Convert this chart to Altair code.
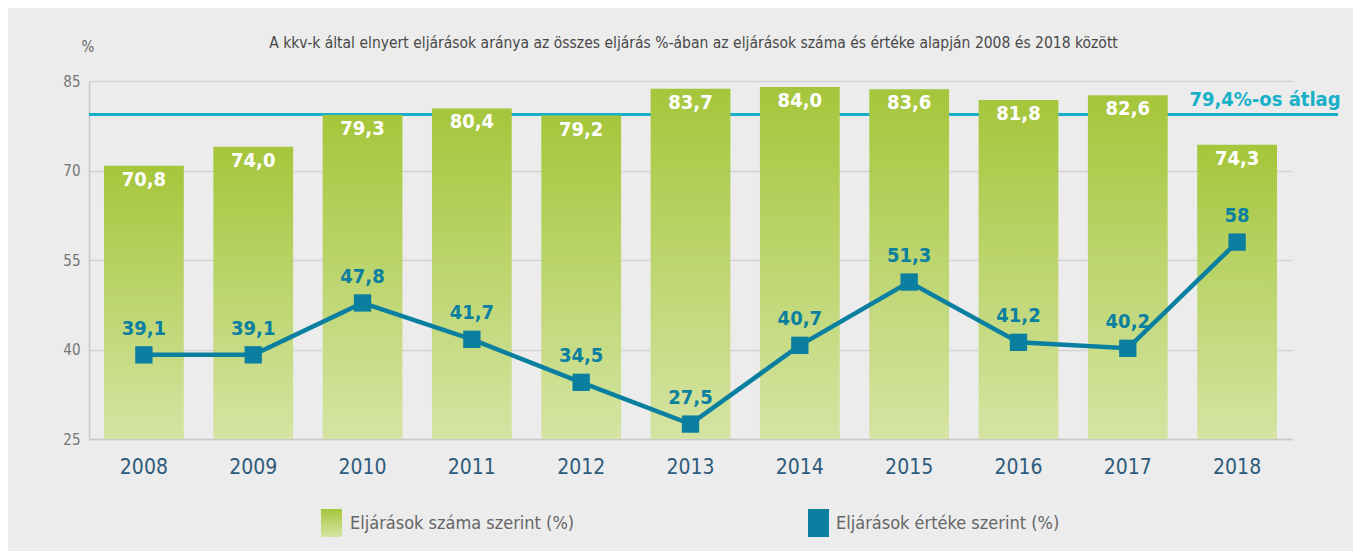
import altair as alt
import pandas as pd

years = ["2008", "2009", "2010", "2011", "2012", "2013", "2014", "2015", "2016", "2017", "2018"]
count_share = [70.8, 74.0, 79.3, 80.4, 79.2, 83.7, 84.0, 83.6, 81.8, 82.6, 74.3]
count_labels = ["70,8", "74,0", "79,3", "80,4", "79,2", "83,7", "84,0", "83,6", "81,8", "82,6", "74,3"]
value_share = [39.1, 39.1, 47.8, 41.7, 34.5, 27.5, 40.7, 51.3, 41.2, 40.2, 58.0]
value_labels = ["39,1", "39,1", "47,8", "41,7", "34,5", "27,5", "40,7", "51,3", "41,2", "40,2", "58"]
average = 79.4
average_label = "79,4%-os átlag"
y_ticks = [25, 40, 55, 70, 85]
title_text = "A kkv-k által elnyert eljárások aránya az összes eljárás %-ában az eljárások száma és értéke alapján 2008 és 2018 között"
legend_labels = ["Eljárások száma szerint (%)", "Eljárások értéke szerint (%)"]

FONT = "Liberation Sans Narrow, DejaVu Sans Condensed, sans-serif"
GREEN_TOP = "#a5c63b"
GREEN_BOT = "#d5e4a3"
TEAL = "#0a7fa0"
CYAN = "#18b0c8"

df = pd.DataFrame({
    "year": years,
    "count": count_share,
    "count_label": count_labels,
    "value": value_share,
    "value_label": value_labels,
})

W, H = 1203, 358

xenc = alt.X("year:O", title=None,
             scale=alt.Scale(paddingInner=0.27, paddingOuter=0.137),
             axis=alt.Axis(labelAngle=0, labelColor="#2d5b7c", labelFontSize=21, labelFont=FONT,
                           labelPadding=17, ticks=False, domainColor="#c8c8c8", domainWidth=1.5))
yscale = alt.Scale(domain=[25, 85], nice=False, zero=False)

base = alt.Chart(df)

grad = alt.Gradient(gradient="linear",
                    stops=[alt.GradientStop(color=GREEN_TOP, offset=0),
                           alt.GradientStop(color=GREEN_BOT, offset=1)],
                    x1=0, x2=0, y1=0, y2=1)

avg_df = pd.DataFrame({"avg": [average], "label": [average_label]})
avg_rule = alt.Chart(avg_df).mark_rule(color=CYAN, strokeWidth=3).encode(
    y=alt.Y("avg:Q", scale=yscale,
            axis=alt.Axis(values=y_ticks, title=None, labelColor="#777777", labelFontSize=15, labelFont=FONT,
                          gridColor="#d2d2d2", gridWidth=1.5, domainColor="#c8c8c8", domainWidth=1.5,
                          ticks=False, labelPadding=9)),
    x=alt.value(0), x2=alt.value(1249))
avg_text = alt.Chart(avg_df).mark_text(color=CYAN, fontSize=20, fontWeight="bold", font=FONT,
                                        align="center", baseline="bottom", dy=-4).encode(
    y=alt.Y("avg:Q", scale=yscale), x=alt.value(1176), text="label:N")

bars = base.mark_bar(color=grad).encode(
    x=xenc,
    y=alt.Y("count:Q", scale=yscale),
    y2=alt.datum(25))
bar_text = base.mark_text(color="white", fontSize=20, fontWeight="bold", font=FONT,
                          baseline="middle", dy=14).encode(
    x="year:O", y=alt.Y("count:Q", scale=yscale), text="count_label:N")

line = base.mark_line(color=TEAL, strokeWidth=4.5).encode(
    x="year:O", y=alt.Y("value:Q", scale=yscale))
points = base.mark_point(shape="square", filled=True, color=TEAL, size=300, opacity=1).encode(
    x="year:O", y=alt.Y("value:Q", scale=yscale))
line_text = base.mark_text(color=TEAL, fontSize=20, fontWeight="bold", font=FONT,
                           baseline="middle", dy=-26).encode(
    x="year:O", y=alt.Y("value:Q", scale=yscale), text="value_label:N")

title = alt.Chart(pd.DataFrame({"t": [title_text]})).mark_text(
    color="#484848", fontSize=15.5, font=FONT, align="center", baseline="middle").encode(
    text="t:N", x=alt.value(W / 2 + 3), y=alt.value(-38))
pct = alt.Chart(pd.DataFrame({"t": ["%"]})).mark_text(
    color="#666666", fontSize=15, font=FONT, align="center", baseline="middle").encode(
    text="t:N", x=alt.value(-1), y=alt.value(-34))

leg_df = pd.DataFrame({"label": legend_labels})
leg1_box = alt.Chart(leg_df.iloc[[0]]).mark_rect(color=grad).encode(
    x=alt.value(232), x2=alt.value(253), y=alt.value(428), y2=alt.value(456))
leg2_box = alt.Chart(leg_df.iloc[[1]]).mark_rect(color=TEAL).encode(
    x=alt.value(719), x2=alt.value(740), y=alt.value(428), y2=alt.value(456))
leg1_text = alt.Chart(leg_df.iloc[[0]]).mark_text(
    color="#666666", fontSize=18, font=FONT, align="left", baseline="middle").encode(
    text="label:N", x=alt.value(261), y=alt.value(443))
leg2_text = alt.Chart(leg_df.iloc[[1]]).mark_text(
    color="#666666", fontSize=18, font=FONT, align="left", baseline="middle").encode(
    text="label:N", x=alt.value(747), y=alt.value(443))

chart = alt.layer(
    avg_rule, bars, avg_text, bar_text, line, points, line_text,
    title, pct, leg1_box, leg2_box, leg1_text, leg2_text
).properties(
    width=W, height=H,
    autosize=alt.AutoSizeParams(type="none"),
    padding={"left": 81, "top": 73, "right": 61, "bottom": 112},
).configure(
    background="#ececec"
).configure_view(stroke=None)

chart.save("out.html", embed_options={"renderer": "svg", "actions": False})
